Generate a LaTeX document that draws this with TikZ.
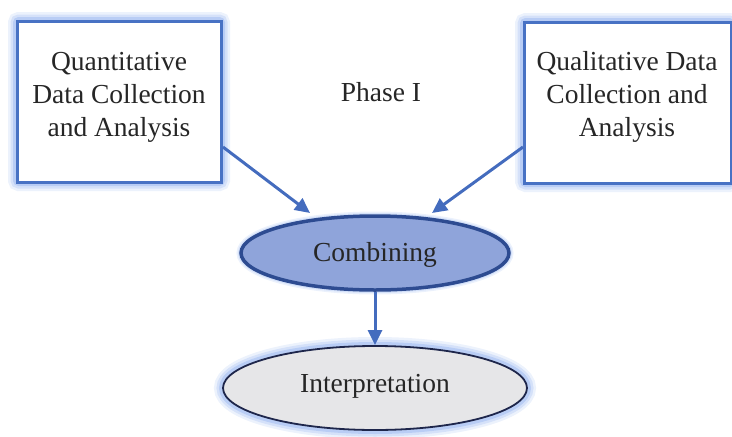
\documentclass[tikz,border=0pt]{standalone}
\usepackage{fontspec}
\setmainfont{Liberation Serif}
\usetikzlibrary{arrows.meta,shapes.geometric}
\definecolor{boxblue}{RGB}{72,114,196}
\definecolor{glowblue}{RGB}{120,160,235}
\definecolor{arrowblue}{RGB}{68,108,190}
\definecolor{combfill}{RGB}{143,164,218}
\definecolor{combdraw}{RGB}{45,75,145}
\definecolor{intfill}{RGB}{230,230,232}
\definecolor{intdraw}{RGB}{30,38,75}
\tikzset{
  txt/.style={font=\fontsize{27.5}{33}\selectfont, align=center, text=black!85},
  phasebox/.style={rectangle, draw=boxblue, line width=3pt, fill=white, inner sep=0pt},
  conn/.style={draw=arrowblue, line width=3pt, -{Triangle[length=15pt,width=14pt]}},
}
\begin{document}
\begin{tikzpicture}[x=1pt,y=-1pt]
\useasboundingbox (0,0) rectangle (732,437);
\clip (0,0) rectangle (732,437);
% glows
\foreach \w/\o in {18/0.14,13/0.2,8/0.3}{
  \draw[glowblue, line width=\w pt, opacity=\o, rounded corners=2pt] (17,21) rectangle (221,182);
  \draw[glowblue, line width=\w pt, opacity=\o, rounded corners=2pt] (524,22) rectangle (731,183);
  \draw[glowblue, line width=\w pt, opacity=\o] (375,388) ellipse [x radius=152, y radius=42];
}
\foreach \w/\o in {9/0.15,6/0.2}{
  \draw[glowblue, line width=\w pt, opacity=\o] (375,253) ellipse [x radius=134, y radius=37];
}
% boxes
\node[phasebox, minimum width=204pt, minimum height=161pt] (quan) at (119,101.5) {};
\node[txt] (quantxt) at (119,97) {Quantitative\\Data Collection\\and Analysis};
\node[phasebox, minimum width=207pt, minimum height=161pt] (qual) at (627.5,102.5) {};
\node[txt] (qualtxt) at (627,97) {Qualitative Data\\Collection and\\Analysis};
\node[txt] (phase) at (381,92) {Phase I};
% ellipses
\node[ellipse, draw=combdraw, fill=combfill, line width=3.5pt, minimum width=268pt, minimum height=74pt, inner sep=0pt] (comb) at (375,253) {};
\node[txt] (combtxt) at (375,255) {Combining};
\node[ellipse, draw=intdraw, fill=intfill, line width=1.8pt, minimum width=304pt, minimum height=84pt, inner sep=0pt] (interp) at (375,388) {};
\node[txt] (interptxt) at (375,386) {Interpretation};
% connectors
\coordinate (qa) at (223,147);
\coordinate (qb) at (523,147);
\draw[conn] (qa) -- (310,213);
\draw[conn] (qb) -- (432,213);
\draw[conn] (comb.south) -- (interp.north);
\end{tikzpicture}
\end{document}
